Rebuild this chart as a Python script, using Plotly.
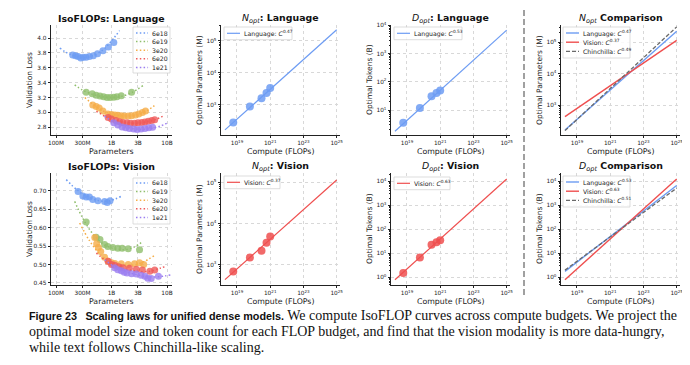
import plotly.graph_objects as go

W, H = 690, 365
FONT = "DejaVu Sans"

# ---------------- data ----------------
budget_labels = ["6e18", "6e19", "3e20", "6e20", "1e21"]
iso_colors = ["#6d9cf3", "#8fbe6b", "#f5ad48", "#ef5a5a", "#9b7ef0"]

# IsoFLOPs (language): measured runs, params in millions
lang_pt_params = [
    [200, 225, 250, 280, 310, 350, 400, 470, 560, 700, 880, 1100],
    [350, 450, 530, 620, 720, 830, 950, 1100, 1250, 1500, 2300],
    [460, 530, 600, 700, 860, 1000, 1150, 1300, 1500, 1700, 2000, 2300, 2700, 3100, 3600, 4100],
    [870, 1000, 1200, 1400, 1600, 1900, 2200, 2600, 3000, 3500, 4000, 4600, 5300, 6000],
    [1100, 1300, 1550, 1800, 2100, 2500, 2900, 3400, 4000, 4700, 5500],
]
lang_pt_loss = [
    [3.77, 3.76, 3.75, 3.73, 3.74, 3.74, 3.75, 3.76, 3.79, 3.83, 3.88, 3.94],
    [3.27, 3.25, 3.23, 3.22, 3.21, 3.20, 3.20, 3.205, 3.21, 3.225, 3.27],
    [3.10, 3.08, 3.06, 3.02, 2.98, 2.97, 2.965, 2.96, 2.955, 2.95, 2.95, 2.955, 2.965, 2.98, 3.00, 3.02],
    [2.93, 2.91, 2.89, 2.875, 2.865, 2.86, 2.855, 2.855, 2.86, 2.865, 2.87, 2.88, 2.89, 2.90],
    [2.86, 2.83, 2.805, 2.795, 2.785, 2.775, 2.77, 2.775, 2.785, 2.795, 2.80],
]
# IsoFLOPs (language): fitted curves
lang_fit_params = [
    [117, 150, 200, 300, 450, 700, 1000, 1400],
    [217, 300, 450, 700, 1000, 1500, 2300, 3700],
    [330, 500, 800, 1300, 2000, 3000, 4500, 6400],
    [533, 800, 1200, 2000, 3000, 4500, 6500, 9100],
    [750, 1100, 1600, 2500, 3600, 5200, 7500, 10400],
]
lang_fit_loss = [
    [3.866, 3.81, 3.77, 3.735, 3.76, 3.84, 3.96, 4.10],
    [3.37, 3.30, 3.245, 3.21, 3.20, 3.215, 3.265, 3.36],
    [3.20, 3.09, 3.00, 2.96, 2.95, 2.97, 3.03, 3.11],
    [3.015, 2.94, 2.89, 2.86, 2.855, 2.875, 2.91, 2.96],
    [2.95, 2.87, 2.82, 2.78, 2.77, 2.785, 2.815, 2.86],
]

# IsoFLOPs (vision)
vis_pt_params = [
    [250, 305, 350, 400, 460, 570, 750, 840, 940],
    [350, 530, 620, 750, 860, 1060, 1300, 1560, 2000, 3200],
    [500, 540, 580, 640, 750, 870, 1000, 1150, 1500, 2000, 2600, 3200, 3800],
    [870, 1000, 1140, 1350, 1600, 2100, 2800, 3600, 4900, 6000],
    [1140, 1300, 1500, 1700, 1900, 2300, 2800, 3400, 4000, 4500, 5200, 7000],
]
vis_pt_loss = [
    [0.698, 0.686, 0.683, 0.683, 0.676, 0.673, 0.671, 0.668, 0.673],
    [0.615, 0.574, 0.568, 0.554, 0.549, 0.546, 0.544, 0.544, 0.543, 0.540],
    [0.573, 0.556, 0.546, 0.535, 0.520, 0.509, 0.505, 0.503, 0.502, 0.500, 0.502, 0.505, 0.500],
    [0.509, 0.500, 0.498, 0.494, 0.491, 0.490, 0.487, 0.485, 0.482, 0.485],
    [0.491, 0.486, 0.483, 0.479, 0.477, 0.475, 0.474, 0.471, 0.468, 0.463, 0.462, 0.468],
]
vis_fit_params = [
    [153, 250, 400, 600, 900, 1500],
    [217, 300, 450, 700, 1100, 1700, 2600, 3700],
    [267, 400, 600, 900, 1400, 2200, 3500, 6000],
    [533, 800, 1200, 2000, 3200, 5000, 7500, 9600],
    [753, 1100, 1700, 2600, 4000, 6000, 9000, 12000],
]
vis_fit_loss = [
    [0.730, 0.700, 0.682, 0.673, 0.672, 0.685],
    [0.671, 0.627, 0.585, 0.556, 0.543, 0.540, 0.548, 0.563],
    [0.6125, 0.565, 0.530, 0.510, 0.500, 0.498, 0.505, 0.525],
    [0.531, 0.510, 0.496, 0.486, 0.481, 0.482, 0.490, 0.495],
    [0.513, 0.495, 0.482, 0.474, 0.468, 0.466, 0.469, 0.472],
]

# Optimal allocations per compute budget
compute_budgets = [6e18, 6e19, 3e20, 6e20, 1e21]
lang_n_opt = [280, 890, 1620, 2370, 3400]      # M
lang_d_opt = [3.6, 11.8, 31, 40, 49]            # B
vis_n_opt = [690, 1500, 2200, 3450, 4900]       # M
vis_d_opt = [1.5, 6.7, 23, 29, 35]              # B

# Power-law fit lines (end points)
fit_compute = [1.9e18, 1e25]
lang_n_fit = [166, 2.24e5]
vis_n_fit = [437, 1.15e5]
chin_n_fit = [158, 3.09e5]
lang_d_fit = [1.78, 6760]
vis_d_fit = [0.79, 12600]
chin_d_fit = [2.0, 5250]
lang_n_exp, vis_n_exp, chin_n_exp = "0.47", "0.37", "0.49"
lang_d_exp, vis_d_exp, chin_d_exp = "0.53", "0.63", "0.51"

# Tick labels
param_tickvals = [100, 300, 1000, 3000, 10000]
param_ticktext = ["100M", "300M", "1B", "3B", "10B"]
lang_loss_ticks = [2.8, 3.0, 3.2, 3.4, 3.6, 3.8, 4.0]
vis_loss_ticks = [0.45, 0.50, 0.55, 0.60, 0.65, 0.70]
compute_tickvals = [1e19, 1e21, 1e23, 1e25]
compute_ticktext = ["10<sup>19</sup>", "10<sup>21</sup>", "10<sup>23</sup>", "10<sup>25</sup>"]

caption_bold = "Figure 23\u2002 Scaling laws for unified dense models."
caption_l1 = " We compute IsoFLOP curves across compute budgets. We project the"
caption_l2 = "optimal model size and token count for each FLOP budget, and find that the vision modality is more data-hungry,"
caption_l3 = "while text follows Chinchilla-like scaling."

LANG_C = "#6d9cf3"
VIS_C = "#ef4f4f"
CHIN_C = "#6a6a6a"

TICK_FS = 5.8
LEG_FS = 6.2
TITLE_FS = 9.4
XT_FS = 7.8
YT_FS = 7.5

# ---------------- layout helpers ----------------
def px(x):
    return x / W


def py(y):
    return 1 - y / H


COLS = [(43, 164), (213, 332), (383, 502), (553, 672)]
ROWS = [(17, 127), (165, 277)]
PANELS = [(0, 0), (0, 1), (0, 2), (0, 3), (1, 0), (1, 1), (1, 2), (1, 3)]

fig = go.Figure()


def pow_ticks(lo, hi):
    vals = [10 ** k for k in range(lo, hi + 1)]
    txt = ["10<sup>%d</sup>" % k for k in range(lo, hi + 1)]
    return vals, txt


axis_base = dict(
    showline=True, linecolor="#222", linewidth=0.8, ticks="outside", ticklen=2.5,
    tickwidth=0.7, tickcolor="#222", showgrid=True, gridcolor="#d8d8d8",
    griddash="dot", gridwidth=0.8, zeroline=False, mirror=False, fixedrange=True,
    tickfont=dict(size=TICK_FS, color="#222", family=FONT), automargin=False,
)
minor_log = dict(ticks="outside", ticklen=1.5, tickwidth=0.5, tickcolor="#222",
                 dtick="D1", showgrid=False)

yspecs = [
    ("lin", [2.696, 4.175], lang_loss_ticks, None, ".1f"),
    ("log", [2.06, 5.5], *pow_ticks(3, 5), None),
    ("log", [0.12, 4.01], *pow_ticks(1, 4), None),
    ("log", [2.06, 5.55], *pow_ticks(3, 5), None),
    ("lin", [0.4445, 0.748], vis_loss_ticks, None, ".2f"),
    ("log", [2.51, 5.23], *pow_ticks(3, 5), None),
    ("log", [-0.32, 4.35], *pow_ticks(0, 4), None),
    ("log", [-0.32, 4.35], *pow_ticks(0, 4), None),
]

for i, (r, c) in enumerate(PANELS):
    n = i + 1
    xname = "xaxis" if n == 1 else "xaxis%d" % n
    yname = "yaxis" if n == 1 else "yaxis%d" % n
    xa = dict(axis_base, domain=[px(COLS[c][0]), px(COLS[c][1])], anchor="y" if n == 1 else "y%d" % n,
              type="log")
    if c == 0:
        xa.update(range=[1.91, 4.09], tickmode="array", tickvals=param_tickvals, ticktext=param_ticktext)
    else:
        xa.update(range=[18.04, 25.2], tickmode="array", tickvals=compute_tickvals, ticktext=compute_ticktext)
    kind, rng, tv, tt, fmt = yspecs[i]
    ya = dict(axis_base, domain=[py(ROWS[r][1]), py(ROWS[r][0])], anchor="x" if n == 1 else "x%d" % n,
              range=rng, tickmode="array", tickvals=tv)
    if kind == "log":
        ya.update(type="log", ticktext=tt, minor=minor_log)
    else:
        ya.update(type="linear", tickformat=fmt)
    fig.update_layout({xname: xa, yname: ya})


def ax(n):
    return ("x" if n == 1 else "x%d" % n), ("y" if n == 1 else "y%d" % n)


# ---------------- IsoFLOP panels ----------------
for n, pp, pl, fp, fl in [(1, lang_pt_params, lang_pt_loss, lang_fit_params, lang_fit_loss),
                          (5, vis_pt_params, vis_pt_loss, vis_fit_params, vis_fit_loss)]:
    xr, yr = ax(n)
    for k in range(len(budget_labels)):
        fig.add_trace(go.Scatter(x=fp[k], y=fl[k], mode="lines", line_shape="spline",
                                 line=dict(color=iso_colors[k], width=1.5, dash="1.5px,2.3px"),
                                 xaxis=xr, yaxis=yr, showlegend=False, name=budget_labels[k]))
        fig.add_trace(go.Scatter(x=pp[k], y=pl[k], mode="markers",
                                 marker=dict(color=iso_colors[k], size=7, opacity=0.8, line=dict(width=0)),
                                 xaxis=xr, yaxis=yr, showlegend=False, name=budget_labels[k]))

# ---------------- optimal panels ----------------
def fit_line(n, y, color, dash=None, width=1.2, name=""):
    xr, yr = ax(n)
    fig.add_trace(go.Scatter(x=fit_compute, y=y, mode="lines", name=name,
                             line=dict(color=color, width=width, dash=dash),
                             xaxis=xr, yaxis=yr, showlegend=False))


def opt_points(n, y, color):
    xr, yr = ax(n)
    fig.add_trace(go.Scatter(x=compute_budgets, y=y, mode="markers",
                             marker=dict(color=color, size=8, opacity=0.85, line=dict(width=0)),
                             xaxis=xr, yaxis=yr, showlegend=False))


fit_line(2, lang_n_fit, LANG_C); opt_points(2, lang_n_opt, LANG_C)
fit_line(3, lang_d_fit, LANG_C); opt_points(3, lang_d_opt, LANG_C)
fit_line(6, vis_n_fit, VIS_C); opt_points(6, vis_n_opt, VIS_C)
fit_line(7, vis_d_fit, VIS_C); opt_points(7, vis_d_opt, VIS_C)

fit_line(4, lang_n_fit, LANG_C, width=1.4)
fit_line(4, vis_n_fit, VIS_C, width=1.4)
fit_line(4, chin_n_fit, CHIN_C, dash="4px,2px", width=1.3)
fit_line(8, lang_d_fit, LANG_C, width=1.4)
fit_line(8, vis_d_fit, VIS_C, width=1.4)
fit_line(8, chin_d_fit, CHIN_C, dash="4px,2px", width=1.3)

# ---------------- titles ----------------
titles = [
    "<b>IsoFLOPs: Language</b>",
    "<i>N</i><sub><i>opt</i></sub><b>: Language</b>",
    "<i>D</i><sub><i>opt</i></sub><b>: Language</b>",
    "<i>N</i><sub><i>opt</i></sub><b> Comparison</b>",
    "<b>IsoFLOPs: Vision</b>",
    "<i>N</i><sub><i>opt</i></sub><b>: Vision</b>",
    "<i>D</i><sub><i>opt</i></sub><b>: Vision</b>",
    "<i>D</i><sub><i>opt</i></sub><b> Comparison</b>",
]
ytitles = ["Validation Loss", "Optimal Parameters (M)", "Optimal Tokens (B)", "Optimal Parameters (M)",
           "Validation Loss", "Optimal Parameters (M)", "Optimal Tokens (B)", "Optimal Tokens (B)"]
xtitles = ["Parameters", "Compute (FLOPs)", "Compute (FLOPs)", "Compute (FLOPs)"] * 2

for i, (r, c) in enumerate(PANELS):
    x0, x1 = COLS[c]
    y0, y1 = ROWS[r]
    cx = (x0 + x1) / 2
    fig.add_annotation(xref="paper", yref="paper", x=px(cx), y=py(y0 - 7), text=titles[i],
                       showarrow=False, xanchor="center", yanchor="middle",
                       font=dict(size=TITLE_FS, family=FONT, color="#111"))
    fig.add_annotation(xref="paper", yref="paper", x=px(cx), y=py(y1 + 16.5), text=xtitles[i],
                       showarrow=False, xanchor="center", yanchor="middle",
                       font=dict(size=XT_FS, family=FONT, color="#222"))
    fig.add_annotation(xref="paper", yref="paper", x=px(x0 - 21), y=py((y0 + y1) / 2), text=ytitles[i],
                       showarrow=False, xanchor="center", yanchor="middle", textangle=-90,
                       font=dict(size=YT_FS, family=FONT, color="#222"))

# ---------------- legends (drawn in panel corners) ----------------
def add_legend(x0, y0, w, h, rows, entries, sample=13):
    fig.add_shape(type="rect", xref="paper", yref="paper", x0=px(x0), x1=px(x0 + w),
                  y0=py(y0 + h), y1=py(y0), line=dict(color="#cfcfcf", width=0.7),
                  fillcolor="rgba(255,255,255,0.85)", layer="above")
    for (label, color, dash, width), ry in zip(entries, rows):
        fig.add_shape(type="line", xref="paper", yref="paper", x0=px(x0 + 3), x1=px(x0 + 3 + sample),
                      y0=py(y0 + ry), y1=py(y0 + ry), line=dict(color=color, width=width, dash=dash),
                      layer="above")
        fig.add_annotation(xref="paper", yref="paper", x=px(x0 + 5 + sample), y=py(y0 + ry), text=label,
                           showarrow=False, xanchor="left", yanchor="middle",
                           font=dict(size=LEG_FS, family=FONT, color="#222"))


iso_entries = [(budget_labels[k], iso_colors[k], "1.5px,2.3px", 1.5) for k in range(5)]
add_legend(125, 19, 37, 46, [6, 14.6, 23.2, 31.8, 40.4], iso_entries, sample=12)
add_legend(125, 170, 37, 46, [5, 13.6, 22.2, 30.8, 39.4], iso_entries, sample=12)

add_legend(216, 19, 68, 12.7, [6.3], [("Language: <i>C</i><sup>%s</sup>" % lang_n_exp, LANG_C, None, 1.2)])
add_legend(386, 19, 68, 12.7, [6.3], [("Language: <i>C</i><sup>%s</sup>" % lang_d_exp, LANG_C, None, 1.2)])
add_legend(216, 168, 56, 12.7, [6.3], [("Vision: <i>C</i><sup>%s</sup>" % vis_n_exp, VIS_C, None, 1.2)])
add_legend(386, 169, 56, 12.7, [6.3], [("Vision: <i>C</i><sup>%s</sup>" % vis_d_exp, VIS_C, None, 1.2)])

add_legend(555, 19, 67, 31, [6, 15.2, 24.4], [
    ("Language: <i>C</i><sup>%s</sup>" % lang_n_exp, LANG_C, None, 1.4),
    ("Vision: <i>C</i><sup>%s</sup>" % vis_n_exp, VIS_C, None, 1.4),
    ("Chinchilla: <i>C</i><sup>%s</sup>" % chin_n_exp, CHIN_C, "4px,2px", 1.3),
])
add_legend(555, 168, 67, 31, [6, 15.2, 24.4], [
    ("Language: <i>C</i><sup>%s</sup>" % lang_d_exp, LANG_C, None, 1.4),
    ("Vision: <i>C</i><sup>%s</sup>" % vis_d_exp, VIS_C, None, 1.4),
    ("Chinchilla: <i>C</i><sup>%s</sup>" % chin_d_exp, CHIN_C, "4px,2px", 1.3),
])

# ---------------- separator ----------------
fig.add_shape(type="line", xref="paper", yref="paper", x0=px(516), x1=px(516), y0=py(2), y1=py(290),
              line=dict(color="#a0a0a0", width=2, dash="6px,3px"))

# ---------------- caption ----------------
cap_font = dict(size=14, family="Liberation Serif, DejaVu Serif, serif", color="#111")
fig.add_annotation(xref="paper", yref="paper", x=px(19), y=py(307), xanchor="left", yanchor="middle",
                   showarrow=False, font=cap_font,
                   text='<span style="font-family:\'Liberation Sans Narrow\', \'Liberation Sans\', sans-serif;'
                        'font-size:10.8px"><b>' + caption_bold + '</b></span>' + caption_l1)
fig.add_annotation(xref="paper", yref="paper", x=px(19), y=py(323), xanchor="left", yanchor="middle",
                   showarrow=False, font=cap_font, text=caption_l2)
fig.add_annotation(xref="paper", yref="paper", x=px(19), y=py(339), xanchor="left", yanchor="middle",
                   showarrow=False, font=cap_font, text=caption_l3)

fig.update_layout(width=W, height=H, margin=dict(l=0, r=0, t=0, b=0), showlegend=False,
                  paper_bgcolor="white", plot_bgcolor="white", font=dict(family=FONT))

fig.write_html("out.html")
